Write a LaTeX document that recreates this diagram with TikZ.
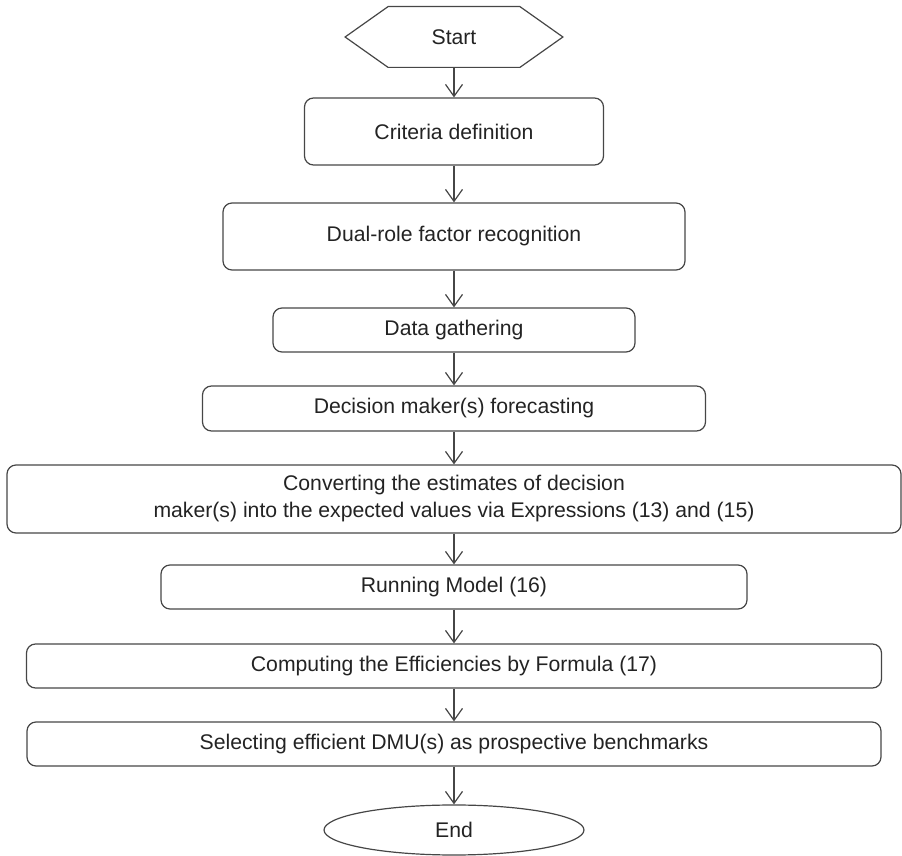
\documentclass[tikz,border=0pt]{standalone}
\usepackage{fontspec}
\setmainfont{Liberation Sans}
\usetikzlibrary{arrows.meta,shapes.geometric,calc}
\definecolor{flowLine}{RGB}{70,70,70}
\definecolor{flowText}{RGB}{35,35,35}

\begin{document}
\begin{tikzpicture}[x=0.5pt, y=-0.5pt,
    stagebox/.style={rectangle, rounded corners=4.5pt, draw=flowLine, line width=0.6pt,
                  inner sep=2pt, align=center, text=flowText,
                  font=\fontsize{10.6}{13.5}\selectfont},
    endbox/.style={ellipse, draw=flowLine, line width=0.6pt, inner sep=0pt,
                  text=flowText, font=\fontsize{10.6}{13.5}\selectfont},
    arr/.style={-{Straight Barb[length=6pt,width=8.5pt]}, flowLine, line width=0.6pt}
  ]
  \useasboundingbox (0,0) rectangle (902,856);

  \node[text=flowText, font=\fontsize{10.6}{13.5}\selectfont, inner sep=0pt,
        minimum width=108.5pt, minimum height=30pt] (start) at (454,37) {Start};
  \node[stagebox, minimum width=149.5pt, minimum height=33.5pt] (crit) at (454,131.5) {Criteria definition};
  \node[stagebox, minimum width=231pt, minimum height=33.5pt] (dual) at (454,236.5) {Dual-role factor recognition};
  \node[stagebox, minimum width=181pt, minimum height=22pt] (data) at (454,330) {Data gathering};
  \node[stagebox, minimum width=251.5pt, minimum height=22.5pt] (dec) at (454,408.5) {Decision maker(s) forecasting};
  \node[stagebox, minimum width=447pt, minimum height=34pt] (conv) at (454,499)
       {Converting the estimates of decision\\maker(s) into the expected values via Expressions (13) and (15)};
  \node[stagebox, minimum width=293pt, minimum height=22pt] (run) at (454,587) {Running Model (16)};
  \node[stagebox, minimum width=427.5pt, minimum height=22pt] (comp) at (454,666) {Computing the Efficiencies by Formula (17)};
  \node[stagebox, minimum width=427pt, minimum height=22pt] (sel) at (454,744) {Selecting efficient DMU(s) as prospective benchmarks};
  \node[endbox, minimum width=130pt, minimum height=25pt] (finish) at (454,830) {End};

  % hexagon round the start label
  \draw[flowLine, line width=0.6pt] (start.west) -- ($(start.north west)+(43,0)$)
    -- ($(start.north east)+(-43,0)$) -- (start.east)
    -- ($(start.south east)+(-43,0)$) -- ($(start.south west)+(43,0)$) -- cycle;

  \draw[arr] (start)--(crit);
  \draw[arr] (crit)--(dual);
  \draw[arr] (dual)--(data);
  \draw[arr] (data)--(dec);
  \draw[arr] (dec)--(conv);
  \draw[arr] (conv)--(run);
  \draw[arr] (run)--(comp);
  \draw[arr] (comp)--(sel);
  \draw[arr] (sel)--(finish);
\end{tikzpicture}
\end{document}
